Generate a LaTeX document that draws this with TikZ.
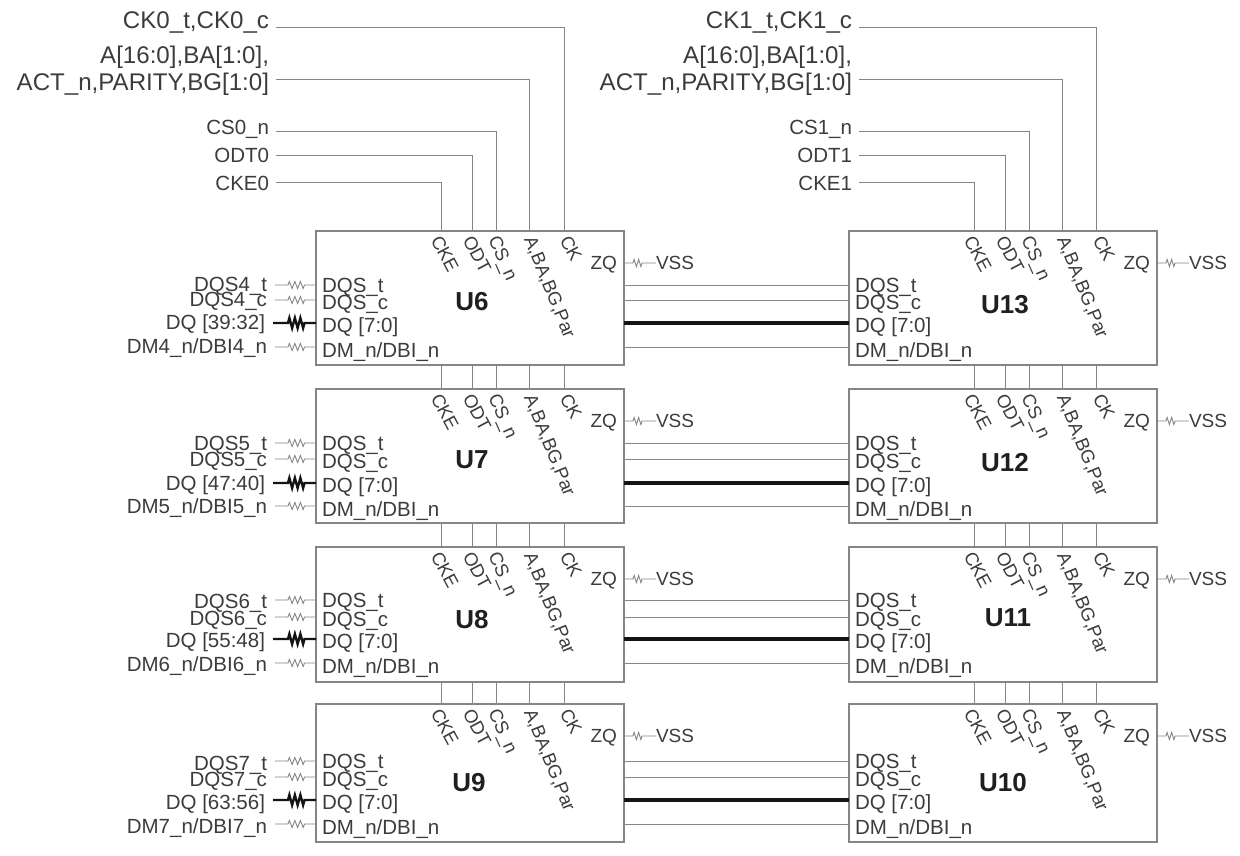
\documentclass[tikz,border=0pt]{standalone}
\usepackage{fontspec}
\setmainfont{Liberation Sans}
\usetikzlibrary{decorations.pathmorphing,calc}
\definecolor{wire}{HTML}{858585}
\definecolor{txt}{HTML}{3C3C3C}
\tikzset{
 chip/.style={draw=wire,line width=1.2pt,minimum width=308pt,inner sep=0,outer sep=0,anchor=north west},
 wirel/.style={draw=wire,line width=1pt},
 busl/.style={draw=black!92,line width=3.2pt},
 resl/.style={draw=wire,line width=.9pt,decorate,decoration={zigzag,segment length=5.5pt,amplitude=3.5pt,pre length=13pt,post length=11pt}},
 resb/.style={draw=black!92,line width=2.4pt,decorate,decoration={zigzag,segment length=5.5pt,amplitude=5pt,pre length=15pt,post length=11pt}},
 resz/.style={draw=wire,line width=.9pt,decorate,decoration={zigzag,segment length=4.5pt,amplitude=3.5pt,pre length=9pt,post length=12pt}},
 txtn/.style={text=txt,font=\fontsize{20.5}{22}\selectfont,inner sep=0,outer sep=0,text height=15pt,text depth=0pt},
 sig/.style={txtn,anchor=east},
 pinl/.style={txtn,anchor=west},
 rot/.style={txtn,anchor=west,rotate=-62,font=\fontsize{18.5}{20}\selectfont,text height=13pt},
 ulabel/.style={text=black!88,font=\bfseries\fontsize{26}{28}\selectfont,inner sep=0},
 toplab/.style={sig,font=\fontsize{24.1}{26}\selectfont,text height=17pt},
 zqlab/.style={txtn,font=\fontsize{19}{21}\selectfont,text height=13.5pt},
}
% name, x, y, height, four wire offsets, label centre offset
\newcommand{\mychip}[9]{%
  \node[chip,minimum height=#4pt] (#1) at (#2,#3) {};
  \coordinate (#1-wt) at ($(#2,#3)+(0,#5)$);
  \coordinate (#1-wc) at ($(#2,#3)+(0,#6)$);
  \coordinate (#1-wq) at ($(#2,#3)+(0,#7)$);
  \coordinate (#1-wm) at ($(#2,#3)+(0,#8)$);
  \node[ulabel] (#1-name) at ($(#2,#3)+(#9)$) {#1};
  \node[pinl] (#1-t) at ($(#2,#3)+(6,#5)$) {DQS\_t};
  \node[pinl] (#1-c) at ($(#2,#3)+(6,#6+1.5)$) {DQS\_c};
  \node[pinl] (#1-q) at ($(#2,#3)+(6,#7+2)$) {DQ [7:0]};
  \node[pinl] (#1-m) at ($(#2,#3)+(6,#8+3)$) {DM\_n/DBI\_n};
  \node[rot] (#1-cke) at ($(#2,#3)+(120,6)$) {CKE};
  \node[rot] (#1-odt) at ($(#2,#3)+(152,6)$) {ODT};
  \node[rot,rotate=-4] (#1-cs) at ($(#2,#3)+(178,6)$) {CS\_n};
  \node[rot,rotate=-6] (#1-a) at ($(#2,#3)+(214,6)$) {A,BA,BG,Par};
  \node[rot] (#1-ck) at ($(#2,#3)+(249,6)$) {CK};
  \node[zqlab,anchor=east] (#1-zq) at ($(#2,#3)+(301,32)$) {ZQ};
  \node[zqlab,anchor=west] (#1-vss) at ($(#2,#3)+(340,32)$) {VSS};
  \draw[resz] (#1-zq.east -| #1.east) -- (#1-vss.west);
}
% name, nibble, hi, lo, wire offsets, label shift
\newcommand{\mysigs}[9]{%
  \coordinate (#1-x) at ($(#1.north west)+(-49,0)$);
  \node[sig] (#1-lt) at ($(#1-x)+(0,#5+#9)$) {DQS#2\_t};
  \node[sig] (#1-lc) at ($(#1-x)+(0,#6+#9)$) {DQS#2\_c};
  \node[sig] (#1-lq) at ($(#1-x)+(-2,#7+#9)$) {DQ [#3:#4]};
  \node[sig] (#1-lm) at ($(#1-x)+(0,#8+#9)$) {DM#2\_n/DBI#2\_n};
  \draw[resl] ($(#1-x |- #1-wt)+(8,0)$) -- (#1-wt);
  \draw[resl] ($(#1-x |- #1-wc)+(8,0)$) -- (#1-wc);
  \draw[resb] ($(#1-x |- #1-wq)+(6,0)$) -- (#1-wq);
  \draw[resl] ($(#1-x |- #1-wm)+(8,0)$) -- (#1-wm);
}
\begin{document}
\begin{tikzpicture}[x=1pt,y=-1pt]
\useasboundingbox (0,0) rectangle (1240,855);
\fill[white] (0,0) rectangle (1240,855);
% chips
\mychip{U6}{316}{231}{134}{54}{69}{92}{116}{156,71}
\mychip{U7}{316}{389}{134}{54}{70}{94}{117}{156,71}
\mychip{U8}{316}{547}{135}{53}{70}{92}{116}{156,73}
\mychip{U9}{316}{704}{138}{57}{73}{96}{120}{153,79}
\mychip{U13}{849}{231}{134}{54}{69}{92}{116}{156,74}
\mychip{U12}{849}{389}{134}{54}{70}{94}{117}{156,74}
\mychip{U11}{849}{547}{135}{53}{70}{92}{116}{159,71}
\mychip{U10}{849}{704}{138}{57}{73}{96}{120}{154,79}
% left signals
\mysigs{U6}{4}{39}{32}{54}{69}{92}{116}{-1}
\mysigs{U7}{5}{47}{40}{54}{70}{94}{117}{0}
\mysigs{U8}{6}{55}{48}{53}{70}{92}{116}{0.5}
\mysigs{U9}{7}{63}{56}{57}{73}{96}{120}{1.5}
% links between columns
\foreach \a/\b in {U6/U13,U7/U12,U8/U11,U9/U10}{
  \draw[wirel] (\a.east |- \b-wt) -- (\b-wt);
  \draw[wirel] (\a.east |- \b-wc) -- (\b-wc);
  \draw[busl] (\a.east |- \b-wq) -- (\b-wq);
  \draw[wirel] (\a.east |- \b-wm) -- (\b-wm);
}
% top labels
\node[toplab] (ck0) at (269,20) {CK0\_t,CK0\_c};
\node[toplab] (a0a) at (269,55) {A[16:0],BA[1:0],};
\node[toplab] (a0) at (269,81.5) {ACT\_n,PARITY,BG[1:0]};
\node[sig] (cs0) at (269,127) {CS0\_n};
\node[sig] (odt0) at (269,155) {ODT0};
\node[sig] (cke0) at (269,182.5) {CKE0};
\node[toplab] (ck1) at (852,20) {CK1\_t,CK1\_c};
\node[toplab] (a1a) at (852,55) {A[16:0],BA[1:0],};
\node[toplab] (a1) at (852,81.5) {ACT\_n,PARITY,BG[1:0]};
\node[sig] (cs1) at (852,127) {CS1\_n};
\node[sig] (odt1) at (852,155) {ODT1};
\node[sig] (cke1) at (852,182.5) {CKE1};
% feeds and chain
\foreach \l/\ck/\ax/\cs/\od/\ce/\t/\x/\y/\z in {0/564/529/496/472/441/U6/U7/U8/U9,1/1096/1062/1029/1005/974/U13/U12/U11/U10}{
  \foreach \p/\xx/\src/\yy in {k/\ck/ck/27.5,q/\ax/a/79,s/\cs/cs/131,o/\od/odt/155,e/\ce/cke/182.5}{
    \coordinate (\p\l) at (\xx,\yy);
    \draw[wirel] ($(\src\l.east |- \p\l)+(7,0)$) -- (\p\l) -- (\p\l |- \t.north);
    \draw[wirel] (\p\l |- \t.south) -- (\p\l |- \x.north);
    \draw[wirel] (\p\l |- \x.south) -- (\p\l |- \y.north);
    \draw[wirel] (\p\l |- \y.south) -- (\p\l |- \z.north);
  }
}
\end{tikzpicture}
\end{document}
